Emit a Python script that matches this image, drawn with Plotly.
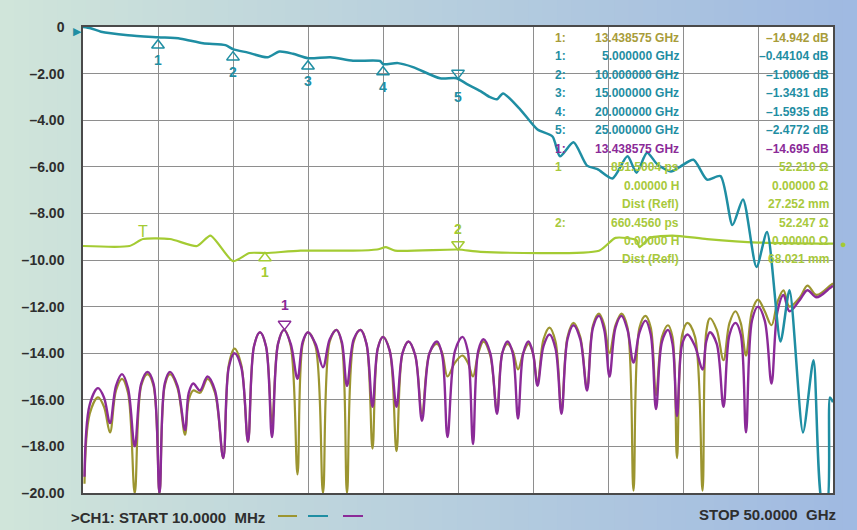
import plotly.graph_objects as go
import numpy as np

# ---------------- data ----------------
# Insertion loss (teal)
teal_f = [0, 0.5, 1.2, 3, 5, 6.5, 8, 9.5, 10, 11, 12.3, 13.1, 14, 15, 16.5, 18, 19.8, 20, 21, 22,
          23.8, 24.9, 25.6, 26.5, 27.1, 27.6, 28, 29.1, 30.3, 31.3, 31.8, 32.7, 33.6, 34.3, 35.3,
          36.3, 36.9, 37.6, 38.3, 39.2, 39.8, 40.7, 41.6, 42.5, 43.3, 44.0, 44.9, 45.6, 46.5, 47.1,
          48.0, 48.7, 49.3, 49.6, 49.8, 50]
teal_db = [0.0, -0.05, -0.2, -0.35, -0.44, -0.5, -0.7, -0.78, -0.95, -1.1, -1.3, -1.05, -1.15, -1.34,
           -1.3, -1.45, -1.46, -1.59, -1.55, -1.72, -2.2, -2.2, -2.45, -2.75, -3.0, -3.1, -2.85, -3.5,
           -4.4, -4.7, -5.55, -4.95, -5.95, -6.1, -6.5, -5.55, -6.25, -5.4, -5.9, -6.2, -6.0, -5.7,
           -6.55, -6.4, -8.5, -7.4, -10.3, -8.8, -13.5, -11.3, -17.4, -14.3, -20.5, -20.5, -15.9, -16.1]

# Return loss traces (olive and purple) share the frequency points
rl_f = [0.1, 0.45, 1.0, 1.4, 1.8, 2.2, 2.6, 3.0, 3.45, 3.88, 4.3, 4.7, 5.1, 5.45, 5.8, 6.3, 6.8, 7.05,
        7.35, 7.8, 8.3, 8.8, 9.35, 9.72, 10.1, 10.55, 11.0, 11.4, 11.8, 12.2, 12.6, 13.0, 13.4, 13.85,
        14.3, 14.65, 15.0, 15.5, 16.0, 16.45, 16.9, 17.25, 17.6, 18.05, 18.5, 18.9, 19.3, 19.65, 20.0,
        20.45, 20.9, 21.3, 21.7, 22.15, 22.6, 23.1, 23.6, 23.95, 24.3, 24.8, 25.3, 25.65, 26.0, 26.35,
        26.7, 27.15, 27.6, 27.95, 28.3, 28.65, 29.0, 29.35, 29.7, 30.0, 30.3, 30.7, 31.1, 31.5, 31.9,
        32.3, 32.7, 33.15, 33.6, 34.0, 34.4, 34.75, 35.1, 35.5, 35.9, 36.3, 36.7, 37.1, 37.5, 37.85,
        38.2, 38.6, 39.0, 39.3, 39.6, 39.95, 40.3, 40.8, 41.3, 41.55, 41.8, 42.25, 42.7, 43.1, 43.5,
        43.85, 44.2, 44.6, 45.0, 45.45, 45.9, 46.3, 46.7, 47.1, 47.8, 48.3, 48.9, 49.8, 50]
olive_db = [-19.6, -16.6, -15.9, -16.3, -17.4, -15.6, -15.1, -15.7, -20.0, -15.4, -14.9, -15.4, -20.0,
            -15.4, -14.9, -15.5, -17.5, -16.0, -15.6, -15.7, -15.1, -15.7, -18.5, -14.5, -13.8, -14.5,
            -17.8, -13.7, -13.1, -13.7, -17.0, -13.6, -13.0, -13.7, -19.2, -13.6, -13.1, -13.7, -20.0,
            -13.5, -13.0, -13.6, -20.0, -13.5, -13.0, -13.6, -18.1, -13.8, -13.3, -13.9, -18.2, -14.0,
            -13.5, -14.1, -16.6, -14.0, -13.6, -14.0, -15.0, -14.4, -14.1, -14.4, -15.0, -14.0, -13.5,
            -14.1, -16.5, -14.0, -13.6, -13.9, -14.7, -14.0, -13.6, -14.0, -15.3, -13.4, -12.9, -13.5,
            -16.5, -13.3, -12.7, -13.3, -15.5, -12.8, -12.3, -12.8, -14.0, -12.8, -12.3, -12.9, -19.9,
            -12.9, -12.4, -12.9, -15.8, -13.3, -12.8, -13.3, -18.5, -13.2, -12.7, -13.3, -19.9, -13.1,
            -12.5, -13.0, -14.3, -12.7, -12.2, -12.7, -14.1, -12.2, -11.7, -12.2, -12.8, -11.8, -11.3,
            -12.0, -11.6, -11.1, -11.5, -11.1, -11.0]
purple_db = [-19.3, -16.2, -15.5, -15.9, -17.0, -15.4, -14.9, -15.5, -18.0, -15.3, -14.8, -15.3, -20.0,
             -15.3, -14.8, -15.4, -17.3, -15.7, -15.3, -15.6, -15.0, -15.6, -18.5, -14.6, -14.0, -14.6,
             -17.8, -13.7, -13.1, -13.7, -17.6, -13.6, -13.0, -13.6, -15.1, -13.5, -13.1, -13.6, -14.6,
             -13.4, -13.0, -13.5, -15.4, -13.4, -13.0, -13.6, -16.3, -13.8, -13.3, -13.9, -16.3, -14.0,
             -13.5, -14.1, -16.9, -14.0, -13.5, -14.1, -17.6, -13.9, -13.3, -13.9, -17.9, -13.9, -13.4,
             -14.0, -16.6, -14.0, -13.5, -14.0, -16.8, -14.0, -13.5, -14.0, -15.4, -13.7, -13.2, -13.8,
             -16.6, -13.4, -12.8, -13.4, -15.6, -12.9, -12.4, -13.0, -15.0, -12.9, -12.4, -13.0, -14.4,
             -13.1, -12.6, -13.2, -16.4, -13.5, -13.0, -13.6, -16.7, -13.6, -13.2, -13.7, -14.7, -13.5,
             -13.1, -13.6, -16.3, -13.2, -12.7, -13.2, -17.4, -12.6, -12.0, -12.6, -15.3, -12.2, -11.5,
             -12.2, -11.7, -11.3, -11.6, -11.2, -11.1]
assert len(rl_f) == len(olive_db) == len(purple_db)

# TDR / impedance trace (yellow-green)
green_f = [0, 3.1, 4.0, 5.8, 7.6, 8.5, 10.0, 11.1, 12.2, 14.5, 18.0, 19.6, 20.2, 20.8, 25.0, 26.5,
           34.4, 35.5, 36.9, 37.1, 37.8, 39.3, 41.6, 45.0, 50.0]
green_db = [-9.4, -9.4, -9.1, -9.1, -9.4, -8.95, -10.05, -9.7, -9.7, -9.6, -9.6, -9.55, -9.45, -9.6,
            -9.55, -9.65, -9.6, -9.05, -9.15, -9.45, -9.05, -8.95, -9.1, -9.25, -9.3]

# markers
teal_mk_f = [5, 10, 15, 20]
teal_mk_lbl = ["1", "2", "3", "4"]
teal_mk5_f = [25]
green_mk_f = [12.13, 25.0]
green_mk_lbl = ["1", "2"]
green_t_f = [4.0]
purple_mk_f = [13.438575]

y_tick_vals = [0, -2, -4, -6, -8, -10, -12, -14, -16, -18, -20]
y_tick_text = ["0", "\u20132.00", "\u20134.00", "\u20136.00", "\u20138.00", "\u201310.00", "\u201312.00",
               "\u201314.00", "\u201316.00", "\u201318.00", "\u201320.00"]

table_lbl = ["1:", "1:", "2:", "3:", "4:", "5:", "1:", "1", "", "", "2:", "", ""]
table_mid = ["13.438575 GHz", "5.000000 GHz", "10.000000 GHz", "15.000000 GHz", "20.000000 GHz",
             "25.000000 GHz", "13.438575 GHz", "851.5004 ps", "0.00000 H", "Dist (Refl)",
             "660.4560 ps", "0.00000 H", "Dist (Refl)"]
table_val = ["\u201314.942 dB", "\u20130.44104 dB", "\u20131.0006 dB", "\u20131.3431 dB", "\u20131.5935 dB",
             "\u20132.4772 dB", "\u201314.695 dB", "52.210 \u03a9", "0.00000 \u03a9", "27.252 mm",
             "52.247 \u03a9", "0.00000 \u03a9", "68.021 mm"]
table_grp = ["olive", "teal", "teal", "teal", "teal", "teal", "purple", "green", "green", "green",
             "green", "green", "green"]

# ---------------- style ----------------
C = {"olive": "#9c9530", "teal": "#1f8ea3", "purple": "#8b2a98", "green": "#a4cb33"}
TXT = {"olive": "#a89c3a", "teal": "#1f8ea3", "purple": "#8b2a98", "green": "#a8c93c"}
FONT = "Liberation Sans, Arial, sans-serif"
W, H = 857, 530
L, R, T, B = 83, 24, 27, 37
PW, PH = W - L - R, H - T - B


def px(x):
    return (x - L) / PW


def py(y):
    return 1 - (y - T) / PH


fig = go.Figure()

# background gradient
shapes = []
N = 60
c0 = np.array([208, 229, 218])
c1 = np.array([160, 186, 226])
for i in range(N):
    t = i / (N - 1)
    c = (c0 * (1 - t) + c1 * t).astype(int)
    shapes.append(dict(type="rect", xref="paper", yref="paper", layer="below",
                       x0=px(i * W / N), x1=px((i + 1) * W / N + 1), y0=py(H), y1=py(0),
                       line=dict(width=0), fillcolor=f"rgb({c[0]},{c[1]},{c[2]})"))
shapes.append(dict(type="rect", xref="paper", yref="paper", layer="below", x0=0, x1=1, y0=0, y1=1,
                   line=dict(width=0), fillcolor="white"))

fig.add_trace(go.Scatter(x=rl_f, y=olive_db, mode="lines", line=dict(color=C["olive"], width=2.2,
                         shape="spline", smoothing=1.0), hoverinfo="skip"))
fig.add_trace(go.Scatter(x=rl_f, y=purple_db, mode="lines", line=dict(color=C["purple"], width=2.4,
                         shape="spline", smoothing=1.0), hoverinfo="skip"))
fig.add_trace(go.Scatter(x=green_f, y=green_db, mode="lines", line=dict(color=C["green"], width=2.2,
                         shape="spline", smoothing=0.6), hoverinfo="skip"))
fig.add_trace(go.Scatter(x=teal_f, y=teal_db, mode="lines", line=dict(color=C["teal"], width=2.5,
                         shape="spline", smoothing=0.7), hoverinfo="skip"))

DB_PX = PH / 20.0
MKF = dict(family=FONT, size=14, weight=700)

# teal markers
tv = np.interp(teal_mk_f, teal_f, teal_db)
fig.add_trace(go.Scatter(x=teal_mk_f, y=tv - 8 / DB_PX, mode="markers",
                         marker=dict(symbol="triangle-up-open", size=11, color=C["teal"], line=dict(width=1.5)),
                         hoverinfo="skip"))
t5 = np.interp(teal_mk5_f, teal_f, teal_db)
fig.add_trace(go.Scatter(x=teal_mk5_f, y=t5 + 6 / DB_PX, mode="markers",
                         marker=dict(symbol="triangle-down-open", size=11, color=C["teal"], line=dict(width=1.5)),
                         hoverinfo="skip"))
ann = []
for f, v, l in zip(teal_mk_f, tv, teal_mk_lbl):
    ann.append(dict(x=f, y=v, text=l, showarrow=False, yshift=-23, font=dict(MKF, color=C["teal"])))
ann.append(dict(x=teal_mk5_f[0], y=t5[0], text="5", showarrow=False, yshift=-18,
                font=dict(MKF, color=C["teal"])))

# green markers
gv = np.interp(green_mk_f, green_f, green_db)
fig.add_trace(go.Scatter(x=green_mk_f[:1], y=gv[:1] - 5 / DB_PX, mode="markers",
                         marker=dict(symbol="triangle-up-open", size=11, color=C["green"], line=dict(width=1.5)),
                         hoverinfo="skip"))
fig.add_trace(go.Scatter(x=green_mk_f[1:], y=gv[1:] + 5 / DB_PX, mode="markers",
                         marker=dict(symbol="triangle-down-open", size=11, color=C["green"], line=dict(width=1.5)),
                         hoverinfo="skip"))
ann.append(dict(x=green_mk_f[0], y=gv[0], text=green_mk_lbl[0], showarrow=False, yshift=-19,
                font=dict(MKF, color=C["green"])))
ann.append(dict(x=green_mk_f[1], y=gv[1], text=green_mk_lbl[1], showarrow=False, yshift=21,
                font=dict(MKF, color=C["green"])))
gt = np.interp(green_t_f, green_f, green_db)
ann.append(dict(x=green_t_f[0], y=gt[0], text="T", showarrow=False, yanchor="bottom", yshift=-3,
                font=dict(family=FONT, size=16, color=C["green"])))

# purple marker
pv = np.interp(purple_mk_f, rl_f, purple_db)
fig.add_trace(go.Scatter(x=purple_mk_f, y=pv + 7 / DB_PX, mode="markers",
                         marker=dict(symbol="triangle-down-open", size=11, color=C["purple"], line=dict(width=1.5)),
                         hoverinfo="skip"))
ann.append(dict(x=purple_mk_f[0], y=pv[0], text="1", showarrow=False, yshift=26,
                font=dict(MKF, color=C["purple"])))

# reference arrows outside plot
ann.append(dict(xref="paper", x=px(77), y=teal_db[0], text="\u25b6", showarrow=False, yshift=-3,
                xanchor="center", yanchor="middle", font=dict(size=11, color=C["teal"])))
ann.append(dict(xref="paper", x=px(843), y=green_db[-1], text="\u25cf", showarrow=False,
                xanchor="center", yanchor="middle", font=dict(size=11, color=C["green"])))

# marker table
y0 = 38
dy = 18.45
for i, (a, b, c, g) in enumerate(zip(table_lbl, table_mid, table_val, table_grp)):
    yy = py(y0 + i * dy)
    fnt = dict(family=FONT, size=12, color=TXT[g], weight=700)
    common = dict(xref="paper", yref="paper", y=yy, yanchor="middle", showarrow=False,
                  borderpad=0, borderwidth=0, font=fnt)
    if a:
        ann.append(dict(common, x=px(555), text=a, xanchor="left"))
    ann.append(dict(common, x=px(679), text=b, xanchor="right"))
    ann.append(dict(common, x=px(829), text=c, xanchor="right"))

# bottom texts
ann.append(dict(xref="paper", yref="paper", x=px(69), y=py(517), text=">CH1: START 10.0000  MHz",
                showarrow=False, xanchor="left", yanchor="middle",
                font=dict(family=FONT, size=15, color="#2e2e2e", weight=700)))
ann.append(dict(xref="paper", yref="paper", x=px(838), y=py(514), text="STOP 50.0000  GHz",
                showarrow=False, xanchor="right", yanchor="middle",
                font=dict(family=FONT, size=15, color="#2e2e2e", weight=700)))
for x0, x1, k in [(278, 297, "olive"), (308, 328, "teal"), (343, 363, "purple")]:
    shapes.append(dict(type="line", xref="paper", yref="paper", x0=px(x0), x1=px(x1), y0=py(516), y1=py(516),
                       line=dict(color=C[k], width=2)))

fig.update_layout(
    width=W, height=H, margin=dict(l=L, r=R, t=T, b=B),
    paper_bgcolor="rgb(185,208,222)", plot_bgcolor="white",
    showlegend=False, shapes=shapes, annotations=ann,
    xaxis=dict(range=[0, 50], tick0=0, dtick=5, showticklabels=False, showgrid=True,
               gridcolor="#8e8e8e", gridwidth=1, zeroline=False, showline=True, linecolor="#4a4a4a",
               linewidth=1.5, mirror=True, ticks=""),
    yaxis=dict(range=[-20, 0], tickvals=y_tick_vals, ticktext=y_tick_text, showgrid=True,
               gridcolor="#8e8e8e", gridwidth=1, zeroline=False, showline=True, linecolor="#4a4a4a",
               linewidth=1.5, mirror=True, ticks="", ticklabelstandoff=14,
               tickfont=dict(family=FONT, size=14, color="#2e2e2e", weight=700)),
)

fig.write_html("out.html", config={"displayModeBar": False},
               post_script="document.body.style.margin='0';document.body.style.overflow='hidden';")
